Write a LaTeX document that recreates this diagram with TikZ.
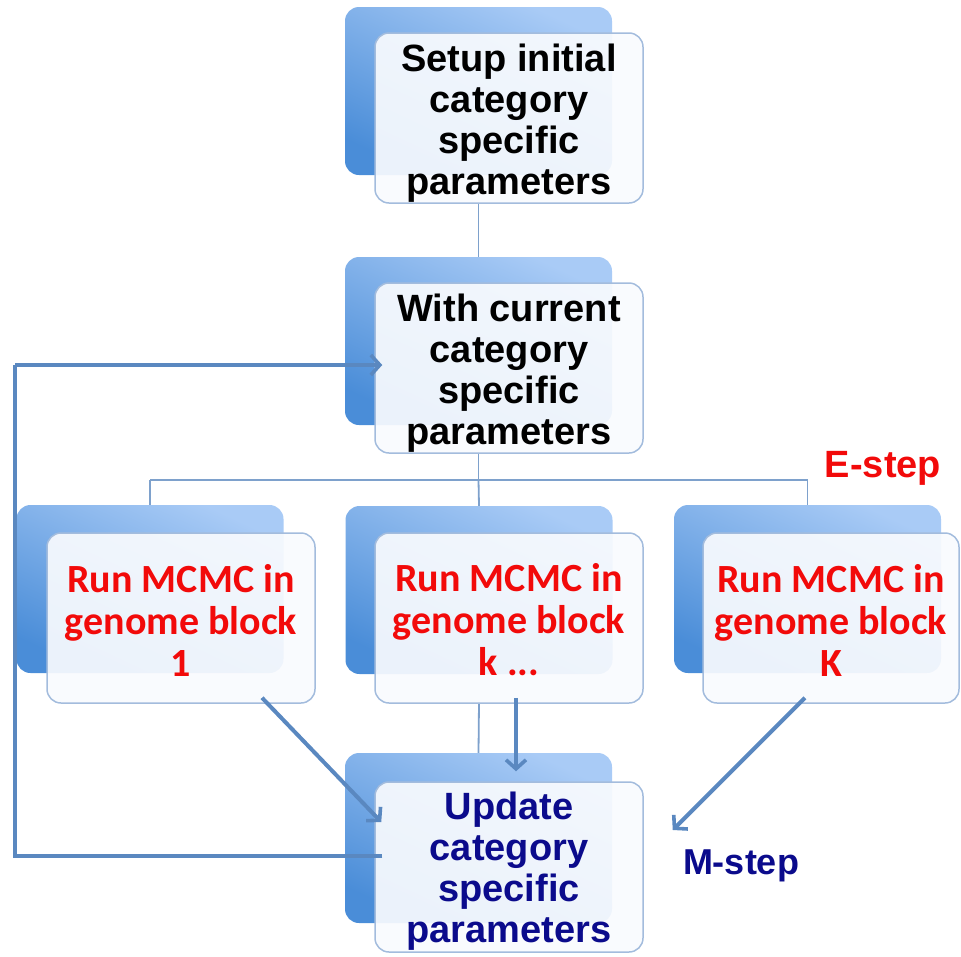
\documentclass[tikz,border=0pt]{standalone}
\usepackage{fontspec}
\usetikzlibrary{arrows.meta,calc}
\newfontfamily\arialfont{Liberation Sans}
\newfontfamily\califont{Carlito}

\definecolor{backtop}{HTML}{A9CBF6}
\definecolor{backbot}{HTML}{4A8DD8}
\definecolor{frontfill}{HTML}{F9FBFE}
\definecolor{frontline}{HTML}{A3BCDD}
\definecolor{thinline}{HTML}{7EA1CC}
\definecolor{arrowblue}{HTML}{5A88C0}
\definecolor{runred}{HTML}{F20A0A}
\definecolor{stepnavy}{HTML}{0B0B8C}

\tikzset{
  backbox/.style={rectangle, rounded corners=14pt, inner sep=0pt,
    minimum width=267pt, minimum height=168pt,
    top color=backtop, bottom color=backbot, shading angle=-25, draw=none},
  frontbox/.style={rectangle, rounded corners=14pt, inner sep=0pt,
    minimum width=268pt, minimum height=170pt,
    fill=frontfill, fill opacity=0.92,
    draw=frontline, line width=1.5pt},
  cardtext/.style={align=center, inner sep=0pt},
  blacktext/.style={cardtext, font=\arialfont\bfseries\fontsize{38}{41}\selectfont, text=black},
  navytext/.style={cardtext, font=\arialfont\bfseries\fontsize{38}{41}\selectfont, text=stepnavy},
  redtext/.style={cardtext, font=\califont\bfseries\fontsize{40}{42}\selectfont, text=runred},
  link/.style={draw=thinline, line width=1.8pt},
  flow/.style={draw=arrowblue, line width=4pt,
    -{Straight Barb[length=9pt,width=20pt,line width=3.6pt]}},
  looplink/.style={draw=arrowblue, line width=4pt},
  esteplabel/.style={font=\arialfont\bfseries\fontsize{38}{40}\selectfont, anchor=base, text=runred},
  msteplabel/.style={font=\arialfont\bfseries\fontsize{36}{40}\selectfont, anchor=base, text=stepnavy}
}

\begin{document}
\begin{tikzpicture}[x=1pt, y=-1pt]
\useasboundingbox (0,0) rectangle (961,956);

% split point of the tree below the second step
\coordinate (split) at (478.5,480);

% back (shaded) plates
\node[backbox] (setupB) at (478.5,91) {};
\node[backbox] (withB)  at (478.5,341) {};
\node[backbox] (runLB)  at (150,589) {};
\node[backbox] (runMB)  at (479,590) {};
\node[backbox] (runRB)  at (807.5,589) {};
\node[backbox, minimum height=170pt] (updB) at (478.5,838) {};

% tree connectors (behind the front cards)
\draw[link] (setupB.south) ++(0,28) -- (withB.north);
\draw[link] (withB.south) ++(0,28) -- (split);
\draw[link] (runLB.north |- split) -- (runRB.north |- split);
\draw[link] (runLB.north |- split) -- (runLB.north);
\draw[link] (split) -- (runMB.north);
\draw[link] (runRB.north |- split) -- (runRB.north);
\draw[link] (runMB.south) ++(0,28) -- (updB.north);

% front cards
\node[frontbox] (setup) at (509,118) {};
\node[frontbox] (with)  at (509,368) {};
\node[frontbox] (runL)  at (181,618) {};
\node[frontbox] (runM)  at (509,618) {};
\node[frontbox, minimum width=256pt] (runR) at (831,618) {};
\node[frontbox] (upd)   at (509,867) {};

% card texts
\node[blacktext] (setupT) at ($(setup)+(0,5)$)
  {Setup initial\\category\\specific\\parameters};
\node[blacktext] (withT) at ($(with)+(0,5)$)
  {With current\\category\\specific\\parameters};
\node[redtext] (runLT) at ($(runL)+(0,2)$) {Run MCMC in\\genome block\\1};
\node[redtext] (runMT) at ($(runM)+(0,2)$) {Run MCMC in\\genome block\\k ...};
\node[redtext] (runRT) at ($(runR)+(0,2)$) {Run MCMC in\\genome block\\K};
\node[navytext] (updT) at ($(upd)+(0,4)$)
  {Update\\category\\specific\\parameters};

% step labels
\node[esteplabel] (estep) at (883,477) {E-step};
\node[msteplabel] (mstep) at (741,874) {M-step};

% flow arrows into the update step
\draw[flow] ($(runL.south)+(81,-6)$) -- ($(upd.west)+(7,-45)$);
\draw[flow] ($(runM.south)+(7,-6)$) -- ($(upd.north)+(7,-10)$);
\draw[flow] ($(runR.south)+(-26,-6)$) -- ($(upd.east)+(29,-37)$);

% feedback loop back to the current parameters
\coordinate (loopbot) at (15,856);
\coordinate (looptop) at (15,365);
\draw[looplink] ($(upd.west)+(8,-11)$) -- (loopbot) -- (looptop);
\draw[flow] (looptop) -- ($(with.west)+(8,-3)$);
\end{tikzpicture}
\end{document}
